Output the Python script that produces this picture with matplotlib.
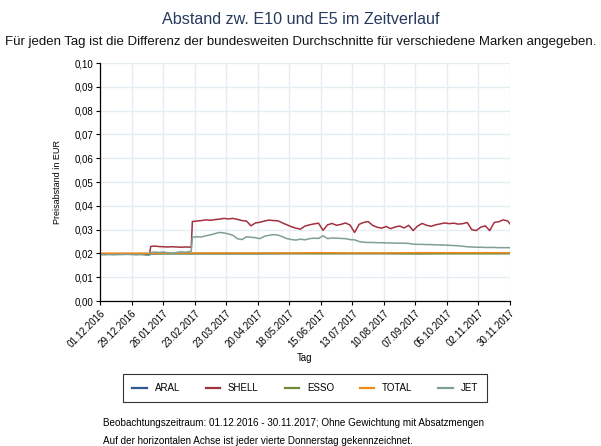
import matplotlib
matplotlib.use('Agg')
import matplotlib.pyplot as plt
import matplotlib.dates as mdates
import numpy as np

plt.rcParams['font.family'] = ['Liberation Sans', 'DejaVu Sans']

# Data: day offsets from 01.12.2016 and daily E10-E5 difference in EUR.
start = np.datetime64('2016-12-01')
days = [0, 4, 8, 12, 16, 20, 24, 28, 32, 36, 40, 44, 45, 48, 52, 56, 60, 64,
        68, 72, 76, 81, 82, 86, 90, 94, 98, 102, 106, 110, 114, 118, 122, 126,
        130, 134, 138, 142, 146, 150, 154, 158, 162, 166, 170, 174, 178, 182,
        186, 190, 194, 198, 202, 206, 210, 214, 218, 222, 226, 230, 234, 238,
        242, 246, 250, 254, 258, 262, 266, 270, 274, 278, 282, 286, 290, 294,
        298, 302, 306, 310, 314, 318, 322, 326, 330, 334, 338, 342, 346, 350,
        354, 358, 362, 364]
shell = [0.0198, 0.0197, 0.0198, 0.0197, 0.0198, 0.0197, 0.0198, 0.0197,
         0.0197, 0.0198, 0.0196, 0.0197, 0.0229, 0.0231, 0.0229, 0.0228,
         0.0227, 0.0228, 0.0227, 0.0226, 0.0227, 0.0226, 0.0334, 0.0336,
         0.0338, 0.0341, 0.0339, 0.0342, 0.0344, 0.0347, 0.0345, 0.0347,
         0.0343, 0.0338, 0.0336, 0.0316, 0.0328, 0.0331, 0.0336, 0.0340,
         0.0338, 0.0337, 0.0328, 0.0320, 0.0312, 0.0306, 0.0302, 0.0315,
         0.0320, 0.0324, 0.0327, 0.0297, 0.0320, 0.0326, 0.0318, 0.0322,
         0.0328, 0.0319, 0.0288, 0.0322, 0.0330, 0.0334, 0.0318, 0.0310,
         0.0306, 0.0313, 0.0304, 0.0311, 0.0315, 0.0307, 0.0318, 0.0296,
         0.0315, 0.0326, 0.0318, 0.0314, 0.0320, 0.0324, 0.0328, 0.0325,
         0.0327, 0.0323, 0.0325, 0.0330, 0.0300, 0.0296, 0.0310, 0.0316,
         0.0296, 0.0330, 0.0333, 0.0341, 0.0336, 0.0324]
jet = [0.0195, 0.0194, 0.0195, 0.0194, 0.0195, 0.0195, 0.0196, 0.0195,
       0.0194, 0.0195, 0.0193, 0.0192, 0.0203, 0.0206, 0.0204, 0.0206,
       0.0203, 0.0200, 0.0204, 0.0207, 0.0205, 0.0209, 0.0268, 0.0270,
       0.0269, 0.0274, 0.0278, 0.0283, 0.0288, 0.0286, 0.0282, 0.0276,
       0.0262, 0.0258, 0.0270, 0.0268, 0.0266, 0.0262, 0.0272, 0.0276,
       0.0279, 0.0277, 0.0270, 0.0262, 0.0258, 0.0256, 0.0260, 0.0257,
       0.0262, 0.0264, 0.0263, 0.0274, 0.0262, 0.0265, 0.0264, 0.0263,
       0.0262, 0.0258, 0.0257, 0.0250, 0.0247, 0.0246, 0.0246, 0.0245,
       0.0245, 0.0244, 0.0244, 0.0243, 0.0243, 0.0243, 0.0242, 0.0239,
       0.0238, 0.0238, 0.0237, 0.0237, 0.0236, 0.0236, 0.0235, 0.0234,
       0.0233, 0.0232, 0.0230, 0.0228, 0.0227, 0.0226, 0.0226, 0.0225,
       0.0225, 0.0225, 0.0224, 0.0224, 0.0224, 0.0224]

# The three flat brands, read every four weeks.
days_flat = [0, 28, 56, 84, 112, 140, 168, 196, 224, 252, 280, 308, 336, 364]
aral = [0.0198, 0.0198, 0.0199, 0.0199, 0.0199, 0.0199, 0.0200, 0.0200,
        0.0200, 0.0200, 0.0200, 0.0200, 0.0200, 0.0200]
esso = [0.0197, 0.0198, 0.0199, 0.0199, 0.0199, 0.0199, 0.0199, 0.0199,
        0.0199, 0.0199, 0.0198, 0.0199, 0.0199, 0.0199]
total = [0.0201, 0.0201, 0.0201, 0.0202, 0.0202, 0.0202, 0.0202, 0.0203,
         0.0202, 0.0202, 0.0203, 0.0203, 0.0203, 0.0203]

brands = ['ARAL', 'SHELL', 'ESSO', 'TOTAL', 'JET']
colors = ['#2f5a8f', '#a3303f', '#6f8b3a', '#ef8a1d', '#7f9f93']

yticks = [0.0, 0.01, 0.02, 0.03, 0.04, 0.05, 0.06, 0.07, 0.08, 0.09, 0.10]
tick_days = list(range(0, 365, 28))


def to_dates(offsets):
    return start + np.array(offsets, dtype='timedelta64[D]')


fig = plt.figure(figsize=(6.01, 4.46), dpi=100)
ax = fig.add_axes([0.1664, 0.3251, 0.6822, 0.5336])

series = {'ARAL': (days_flat, aral), 'SHELL': (days, shell),
          'ESSO': (days_flat, esso), 'TOTAL': (days_flat, total),
          'JET': (days, jet)}
handles = []
for name, color in zip(brands, colors):
    d, v = series[name]
    line, = ax.plot(to_dates(d), v, color=color, lw=1.1, label=name)
    handles.append(line)

ax.set_xlim(to_dates([0])[0], to_dates([364])[0])
ax.set_ylim(0, 0.10)
ax.set_yticks(yticks)
ax.set_yticklabels([f'{v:.2f}'.replace('.', ',') for v in yticks], fontsize=7)
ax.set_xticks(to_dates(tick_days))
ax.xaxis.set_major_formatter(mdates.DateFormatter('%d.%m.%Y'))
plt.setp(ax.get_xticklabels(), rotation=45, ha='right', rotation_mode='anchor',
         fontsize=7)
ax.tick_params(length=3, width=0.8, color='black', pad=2)

ax.grid(True, color='#e4edf1', lw=1.0)
ax.set_axisbelow(True)
for s in ['top', 'right']:
    ax.spines[s].set_visible(False)
for s in ['left', 'bottom']:
    ax.spines[s].set_linewidth(0.9)

ax.set_ylabel('Preisabstand in EUR', fontsize=6.5, labelpad=9)
ax.set_xlabel('Tag', fontsize=7, labelpad=3)

fig.text(0.5, 0.956, 'Abstand zw. E10 und E5 im Zeitverlauf', ha='center',
         va='center', fontsize=11.6, color='#283a5e')
fig.text(0.5, 0.906, 'Für jeden Tag ist die Differenz der bundesweiten '
         'Durchschnitte für verschiedene Marken angegeben.', ha='center',
         va='center', fontsize=9.5, color='#111111')

leg = fig.legend(handles=handles, labels=brands, loc='center',
                 bbox_to_anchor=(0.5075, 0.13), ncol=5, fontsize=7,
                 frameon=True, fancybox=False, edgecolor='black',
                 handlelength=1.5, handletextpad=0.8, columnspacing=2.65,
                 borderpad=0.95)
leg.get_frame().set_linewidth(0.8)
for h in leg.get_lines():
    h.set_linewidth(1.6)

fig.text(0.171, 0.052, 'Beobachtungszeitraum: 01.12.2016 - 30.11.2017; '
         'Ohne Gewichtung mit Absatzmengen', fontsize=7.1, va='center')
fig.text(0.171, 0.012, 'Auf der horizontalen Achse ist jeder vierte '
         'Donnerstag gekennzeichnet.', fontsize=7.1, va='center')

fig.savefig('out.png', dpi=100)
